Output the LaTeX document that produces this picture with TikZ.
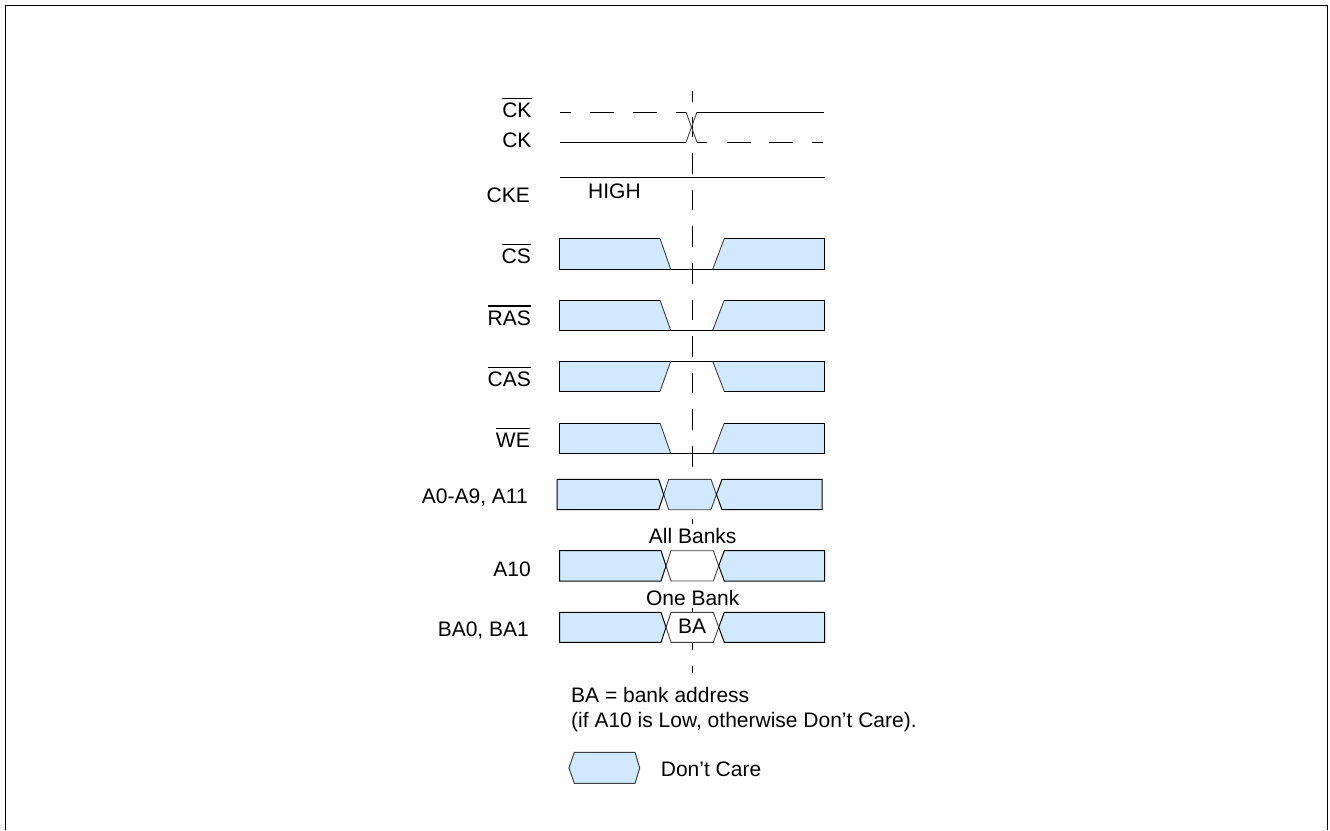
\documentclass[tikz,border=0pt]{standalone}
\usepackage{fontspec}
\setmainfont{Liberation Sans}
\definecolor{dontcare}{HTML}{D0E9FF}
\newcommand{\barlbl}[1]{\vbox{\hrule height 1.2pt \kern 3.8pt \hbox{#1}}}
\tikzset{
    lbl/.style={inner sep=0pt,yshift=-1pt,font=\fontsize{21}{24}\selectfont},
    sig/.style={line width=1pt,black},
    edge/.style={line width=0.9pt,black!75},
    care/.style={fill=dontcare,line width=1pt,draw=black}
}
\begin{document}
\begin{tikzpicture}[x=1pt,y=-1pt]
    \useasboundingbox (0,0) rectangle (1330,830);
    \coordinate (fa) at (5.5,830);
    \coordinate (fb) at (5.5,5.5);
    \coordinate (fc) at (1327.5,5.5);
    \coordinate (fd) at (1327.5,830);
    \draw[sig] (fa) -- (fb) -- (fc) -- (fd);
    \coordinate (ta) at (692.3,90.5);
    \coordinate (tb) at (692.3,101.5);
    \coordinate (tc) at (692.3,116.5);
    \coordinate (td) at (692.3,673);
    \draw[sig] (ta) -- (tb);
    \draw[sig,dash pattern=on 20.6pt off 16pt] (tc) -- (td);
    \draw[sig,dash pattern=on 11pt off 19pt on 24pt off 19pt on 24pt off 19pt on 10pt off 0pt] (560,112) -- (686,112);
    \draw[sig] (560,142.3) -- (686,142.3);
    \draw[edge] (686,112) -- (697,142.3);
    \draw[edge] (686,142.3) -- (697,112);
    \draw[sig] (697,112) -- (824,112);
    \draw[sig,dash pattern=on 10pt off 20pt on 24pt off 18pt on 24pt off 19pt on 11pt off 0pt] (697,142.3) -- (823,142.3);
    \draw[sig] (560,177.3) -- (825,177.3);
    \foreach \ya/\yb in {238.5/269.3,300/330.3,391.3/361.3,423/453.3}{
        \fill[dontcare] (559.5,\ya) -- (660,\ya) -- (670.7,\yb) -- (559.5,\yb) -- cycle;
        \fill[dontcare] (824.5,\ya) -- (724.3,\ya) -- (712.7,\yb) -- (824.5,\yb) -- cycle;
        \draw[sig] (670.7,\yb) -- (559.5,\yb) -- (559.5,\ya) -- (660,\ya);
        \draw[edge] (660,\ya) -- (670.7,\yb);
        \draw[sig] (670.7,\yb) -- (712.7,\yb);
        \draw[edge] (712.7,\yb) -- (724.3,\ya);
        \draw[sig] (724.3,\ya) -- (824.5,\ya) -- (824.5,\yb) -- (712.7,\yb);
    }
    \foreach \yt/\yb/\dx/\midfill in {479.3/509.7/-2.3/dontcare,550.7/581/0/white,612.3/642.3/0/white}{
        \begin{scope}[xshift=\dx]
            \draw[care,fill=\midfill,draw=black!75,line width=0.9pt] (671,\yt) -- (666,\yt/2+\yb/2) -- (671,\yb) -- (713.3,\yb) -- (718.7,\yt/2+\yb/2) -- (713.3,\yt) -- cycle;
            \draw[care] (559.5,\yt) -- (661,\yt) -- (666,\yt/2+\yb/2) -- (661,\yb) -- (559.5,\yb) -- cycle;
            \draw[care] (824.5,\yt) -- (724.3,\yt) -- (718.7,\yt/2+\yb/2) -- (724.3,\yb) -- (824.5,\yb) -- cycle;
        \end{scope}
    }
    \draw[care,draw=black!75] (569,768) -- (574.3,752.3) -- (635,752.3) -- (639.7,768) -- (635,783.3) -- (574.3,783.3) -- cycle;
    \node[lbl,anchor=base east] (ckbar) at (531.7,116.7) {\barlbl{CK}};
    \node[lbl,anchor=base east] (ck) at (531.7,146) {CK};
    \node[lbl,anchor=base east] (cke) at (530,201) {CKE};
    \node[lbl,anchor=base west] (high) at (588,197.7) {HIGH};
    \node[lbl,anchor=base east] (cs) at (531,262.7) {\barlbl{CS}};
    \node[lbl,anchor=base east] (ras) at (531,324) {\barlbl{RAS}};
    \node[lbl,anchor=base east] (cas) at (531,385.7) {\barlbl{CAS}};
    \node[lbl,anchor=base east] (we) at (530,446.7) {\barlbl{WE}};
    \node[lbl,anchor=base east] (addr) at (528,502.3) {A0-A9, A11};
    \node[lbl,anchor=base] (allbanks) at (692.7,542.7) [fill=white,text height=20pt,text depth=2pt] {All Banks};
    \node[lbl,anchor=base east] (aten) at (531,575) {A10};
    \node[lbl,anchor=base] (onebank) at (692.7,604.3) [fill=white,text height=14pt,text depth=3pt] {One Bank};
    \node[lbl,anchor=base east] (bank) at (529,635.7) {BA0, BA1};
    \node[lbl,anchor=base] (ba) at (692,632.7) {BA};
    \node[lbl,anchor=base west] (note) at (571,701.7) {BA = bank address};
    \node[lbl,anchor=base west] (notetwo) at (571,726) {(if A10 is Low, otherwise Don’t Care).};
    \node[lbl,anchor=base west] (legend) at (660.7,775) {Don’t Care};
\end{tikzpicture}
\end{document}
